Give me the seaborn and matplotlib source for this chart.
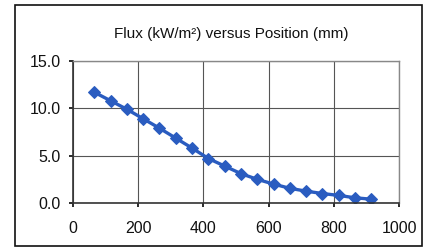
import matplotlib
matplotlib.use("Agg")
import matplotlib.pyplot as plt
import seaborn as sns
import pandas as pd
from matplotlib.patches import Rectangle

position_mm = [65, 115, 165, 215, 265, 315, 365, 415, 465, 515, 565, 615, 665, 715, 765, 815, 865, 915]
flux_kw_m2 = [11.7, 10.8, 9.9, 8.9, 7.9, 6.85, 5.8, 4.7, 3.9, 3.1, 2.5, 2.0, 1.55, 1.25, 1.0, 0.8, 0.55, 0.4]
x_ticks = [0, 200, 400, 600, 800, 1000]
y_ticks = [0.0, 5.0, 10.0, 15.0]
title = "Flux (kW/m²) versus Position (mm)"

sns.set_theme(style="white")
plt.rcParams['font.family'] = ['Liberation Sans', 'DejaVu Sans']

df = pd.DataFrame({"pos": position_mm, "flux": flux_kw_m2})

fig = plt.figure(figsize=(4.25, 2.5), dpi=100)
ax = fig.add_axes([0.172, 0.188, 0.767, 0.568])
blue = "#2a5cc0"
sns.lineplot(data=df, x="pos", y="flux", ax=ax, color=blue, linewidth=2.4,
             marker="D", markersize=6.5, markeredgecolor=blue, markerfacecolor=blue)

ax.set_xlim(0, 1000)
ax.set_ylim(0, 15)
ax.set_xticks(x_ticks)
ax.set_xticklabels([str(t) for t in x_ticks])
ax.set_yticks(y_ticks)
ax.set_yticklabels([f"{t:.1f}" for t in y_ticks])
ax.grid(True, color="#555555", linewidth=0.8)
ax.set_xlabel("")
ax.set_ylabel("")
ax.tick_params(axis="both", labelsize=11.5, colors="#111111", length=3, direction="out",
               bottom=True, left=True)
ax.tick_params(axis="x", pad=10)
ax.tick_params(axis="y", pad=6)
for side in ["top", "right"]:
    ax.spines[side].set_color("#888888")
    ax.spines[side].set_linewidth(1.0)
for side in ["bottom", "left"]:
    ax.spines[side].set_color("#333333")
    ax.spines[side].set_linewidth(1.2)

fig.text(0.545, 0.865, title, ha="center", va="center", fontsize=11, color="#111111")

fig.patches.append(Rectangle((0.036, 0.015), 0.958, 0.965, transform=fig.transFigure,
                             fill=False, edgecolor="#111111", linewidth=1.2))

fig.savefig("out.png", dpi=100)
